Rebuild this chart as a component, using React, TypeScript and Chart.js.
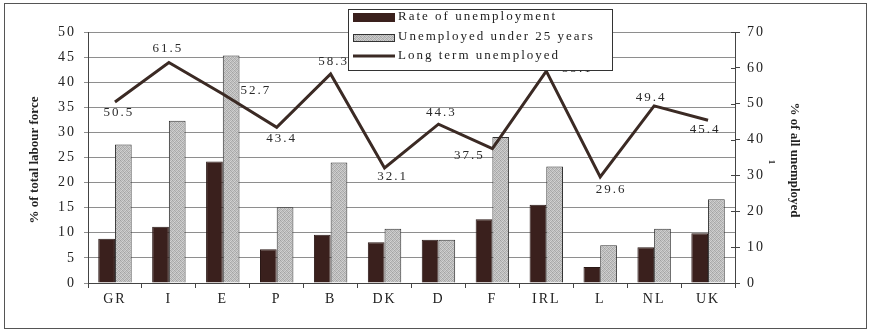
import React, { useEffect, useRef } from "react";
import { Chart, registerables } from "chart.js";

Chart.register(...registerables);

const categories = ["GR", "I", "E", "P", "B", "DK", "D", "F", "IRL", "L", "NL", "UK"];
const rateOfUnemployment = [8.8, 11.2, 24.2, 6.7, 9.6, 8.1, 8.6, 12.7, 15.6, 3.2, 7.1, 9.9];
const under25Years = [27.6, 32.3, 45.3, 15.1, 24.0, 10.8, 8.6, 29.1, 23.2, 7.5, 10.8, 16.7];
const longTermUnemployed = [50.5, 61.5, 52.7, 43.4, 58.3, 32.1, 44.3, 37.5, 59.1, 29.6, 49.4, 45.4];
const longTermLabels = ["50.5", "61.5", "52.7", "43.4", "58.3", "32.1", "44.3", "37.5", "59.1", "29.6", "49.4", "45.4"];
const seriesNames = ["Rate of unemployment", "Unemployed under 25 years", "Long term unemployed"];
const leftAxisTitle = "% of total labour force";
const rightAxisTitle = "% of all unemployed";

// label placement relative to each line vertex (style, not data)
const labelPlacement: [number, number][] = [
  [3, 11], [-2, -14], [32, -3], [4, 11], [2, -12], [7, 9],
  [2, -12], [-24, 7], [30, -3], [10, 13], [-4, -8], [-4, 9],
];

const FONT = "'Liberation Serif', 'DejaVu Serif', serif";
const DARK = "#3a201d";
const LINE = "#3b2a24";

function makePattern(): CanvasPattern | string {
  const c = document.createElement("canvas");
  c.width = 4;
  c.height = 4;
  const g = c.getContext("2d");
  if (!g) return "#b8b8b8";
  const v = [
    [0xa2, 0xc8, 0xb4, 0xd0],
    [0xc4, 0xac, 0xd4, 0xb0],
    [0xb8, 0xd0, 0xa6, 0xc4],
    [0xd0, 0xb0, 0xc8, 0xaa],
  ];
  for (let y = 0; y < 4; y++)
    for (let x = 0; x < 4; x++) {
      const k = v[y][x];
      g.fillStyle = `rgb(${k},${k},${k})`;
      g.fillRect(x, y, 1, 1);
    }
  const p = g.createPattern(c, "repeat");
  return p || "#b8b8b8";
}

export default function App() {
  const ref = useRef<HTMLCanvasElement | null>(null);

  useEffect(() => {
    const canvas = ref.current;
    if (!canvas) return;
    const pattern = makePattern();

    const decor = {
      id: "decor",
      beforeDraw(chart: any) {
        const ctx = chart.ctx;
        ctx.save();
        ctx.fillStyle = "#ffffff";
        ctx.fillRect(0, 0, chart.width, chart.height);
        ctx.restore();
        (ctx as any).letterSpacing = "2px";
      },
      afterDatasetsDraw(chart: any) {
        const ctx = chart.ctx;
        const meta = chart.getDatasetMeta(2);
        ctx.save();
        (ctx as any).letterSpacing = "2px";
        ctx.font = `13px ${FONT}`;
        ctx.fillStyle = "#2a2a2a";
        ctx.textAlign = "center";
        ctx.textBaseline = "middle";
        meta.data.forEach((pt: any, i: number) => {
          const [dx, dy] = labelPlacement[i];
          ctx.fillText(longTermLabels[i], pt.x + dx + 1, pt.y + dy);
        });
        // inner tick marks on right axis
        const y1 = chart.scales.y1;
        const ca = chart.chartArea;
        ctx.strokeStyle = "#444";
        ctx.lineWidth = 1;
        y1.ticks.forEach((t: any) => {
          const yy = Math.round(y1.getPixelForValue(t.value)) + 0.5;
          ctx.beginPath();
          ctx.moveTo(ca.right - 4, yy);
          ctx.lineTo(ca.right, yy);
          ctx.stroke();
        });
        ctx.restore();
      },
      afterDraw(chart: any) {
        const ctx = chart.ctx;
        ctx.save();
        (ctx as any).letterSpacing = "0px";
        // outer frame
        ctx.strokeStyle = "#555";
        ctx.lineWidth = 1;
        ctx.strokeRect(4.5, 3.5, 862, 325);

        // axis titles
        ctx.fillStyle = "#222";
        ctx.font = `bold 13px ${FONT}`;
        ctx.textAlign = "center";
        ctx.textBaseline = "middle";
        ctx.save();
        ctx.translate(35, 160);
        ctx.rotate(-Math.PI / 2);
        ctx.fillText(leftAxisTitle, 0, 0);
        ctx.restore();
        ctx.save();
        ctx.translate(794, 160);
        ctx.rotate(Math.PI / 2);
        ctx.fillText(rightAxisTitle, 0, 0);
        ctx.restore();
        ctx.save();
        ctx.translate(771, 162);
        ctx.rotate(Math.PI / 2);
        ctx.font = `bold 9px ${FONT}`;
        ctx.fillText("1", 0, 0);
        ctx.restore();

        // legend box
        const lx = 348, ly = 9, lw = 264, lh = 61;
        ctx.fillStyle = "#ffffff";
        ctx.fillRect(lx, ly, lw, lh);
        ctx.strokeStyle = "#333";
        ctx.strokeRect(lx + 0.5, ly + 0.5, lw, lh);

        ctx.fillStyle = DARK;
        ctx.fillRect(353, 13, 42, 9);
        ctx.fillStyle = pattern as any;
        ctx.fillRect(353, 34, 42, 8);
        ctx.strokeStyle = "#333";
        ctx.strokeRect(353.5, 34.5, 41, 7);
        ctx.strokeStyle = LINE;
        ctx.lineWidth = 3;
        ctx.beginPath();
        ctx.moveTo(353, 56);
        ctx.lineTo(395, 56);
        ctx.stroke();

        (ctx as any).letterSpacing = "2px";
        ctx.font = `13px ${FONT}`;
        ctx.fillStyle = "#222";
        ctx.textAlign = "left";
        ctx.fillText(seriesNames[0], 398, 17);
        ctx.fillText(seriesNames[1], 398, 37);
        ctx.fillText(seriesNames[2], 398, 56);
        ctx.restore();
      },
    };

    const chart = new Chart(canvas, {
      type: "bar",
      data: {
        labels: categories,
        datasets: [
          {
            type: "bar",
            label: seriesNames[0],
            data: rateOfUnemployment,
            backgroundColor: DARK,
            borderColor: "#2a1816",
            borderWidth: 1,
            yAxisID: "y",
            order: 2,
            categoryPercentage: 0.62,
            barPercentage: 1,
          } as any,
          {
            type: "bar",
            label: seriesNames[1],
            data: under25Years,
            backgroundColor: pattern as any,
            borderColor: "#333",
            borderWidth: 1,
            yAxisID: "y",
            order: 2,
            categoryPercentage: 0.62,
            barPercentage: 1,
          } as any,
          {
            type: "line",
            label: seriesNames[2],
            data: longTermUnemployed,
            borderColor: LINE,
            borderWidth: 3,
            pointRadius: 0,
            tension: 0,
            fill: false,
            yAxisID: "y1",
            order: 1,
          } as any,
        ],
      },
      options: {
        responsive: false,
        maintainAspectRatio: false,
        animation: false,
        devicePixelRatio: 1,
        layout: { padding: { top: 32, left: 0, right: 0, bottom: 0 } },
        plugins: {
          legend: { display: false },
          tooltip: { enabled: false },
          title: { display: false },
        },
        scales: {
          x: {
            type: "category",
            offset: true,
            grid: {
              display: true,
              drawOnChartArea: false,
              offset: true,
              tickLength: 5,
              color: "#444",
            },
            border: { display: true, color: "#444" },
            ticks: {
              autoSkip: false,
              maxRotation: 0,
              padding: 3,
              color: "#222",
              font: { family: FONT, size: 14 },
            },
            afterFit(s: any) {
              s.height = 49;
            },
          },
          y: {
            position: "left",
            min: 0,
            max: 50,
            grid: { color: "#8e8e8e", tickLength: 4 },
            border: { display: true, color: "#444" },
            ticks: {
              stepSize: 5,
              padding: 8,
              color: "#222",
              font: { family: FONT, size: 14 },
            },
            afterFit(s: any) {
              s.width = 88;
            },
          },
          y1: {
            position: "right",
            min: 0,
            max: 70,
            grid: { drawOnChartArea: false, tickLength: 5, color: "#444" },
            border: { display: true, color: "#444" },
            ticks: {
              stepSize: 10,
              padding: 7,
              color: "#222",
              font: { family: FONT, size: 14 },
            },
            afterFit(s: any) {
              s.width = 136;
            },
          },
        } as any,
      },
      plugins: [decor],
    });

    return () => {
      chart.destroy();
    };
  }, []);

  return (
    <div style={{ position: "fixed", left: 0, top: 0, width: 871, height: 332, background: "#fff" }}>
      <canvas ref={ref} width={871} height={332} style={{ display: "block", width: 871, height: 332 }} />
    </div>
  );
}
